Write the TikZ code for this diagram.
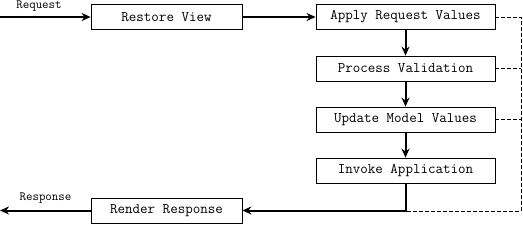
\documentclass[tikz,border=0pt]{standalone}
\usetikzlibrary{arrows.meta, positioning}

\begin{document}
\begin{tikzpicture}[x=1pt, y=-1pt,
        phase/.style={draw, line width=0.8pt, minimum width=179pt, minimum height=25pt, inner sep=0pt, font=\fontsize{14.6}{16}\selectfont\ttfamily},
        lbl/.style={font=\fontsize{12.6}{14}\selectfont\ttfamily, inner sep=0pt},
        flow/.style={-{Stealth[length=9pt, width=8pt]}, line width=2pt},
        back/.style={dash pattern=on 4pt off 2pt, line width=0.8pt}
    ]
        \useasboundingbox (0,0) rectangle (523,225);

        % Phases
        \node[phase, minimum width=151pt] (restore) at (166.5,17) {Restore View};
        \node[phase] (apply) at (405.5,17) {Apply Request Values};
        \node[phase] (validate) at (405.5,68.5) {Process Validation};
        \node[phase] (update) at (405.5,119.5) {Update Model Values};
        \node[phase] (invoke) at (405.5,170.5) {Invoke Application};
        \node[phase, minimum width=151pt] (render) at (166.5,210.5) {Render Response};

        % Request / response
        \coordinate (reqin) at (0,17);
        \coordinate (respout) at (0,210.5);
        \node[lbl] (reqlbl) at (39,6.5) {Request};
        \node[lbl] (resplbl) at (45.5,198.5) {Response};
        \draw[flow] (reqin) -- (restore);
        \draw[flow] (render) -- (respout);

        % Main flow
        \draw[flow] (restore) -- (apply);
        \draw[flow] (apply) -- (validate);
        \draw[flow] (validate) -- (update);
        \draw[flow] (update) -- (invoke);
        \draw[flow] (invoke.south) |- (render.east);

        % Shortcuts to render
        \coordinate (railtop) at (521,17);
        \coordinate (railbot) at (521,211.5);
        \draw[back] (apply) -- (railtop) -- (railbot) -- (invoke.south |- railbot);
        \draw[back] (validate) -- (validate -| railtop);
        \draw[back] (update) -- (update -| railtop);
    \end{tikzpicture}
\end{document}
